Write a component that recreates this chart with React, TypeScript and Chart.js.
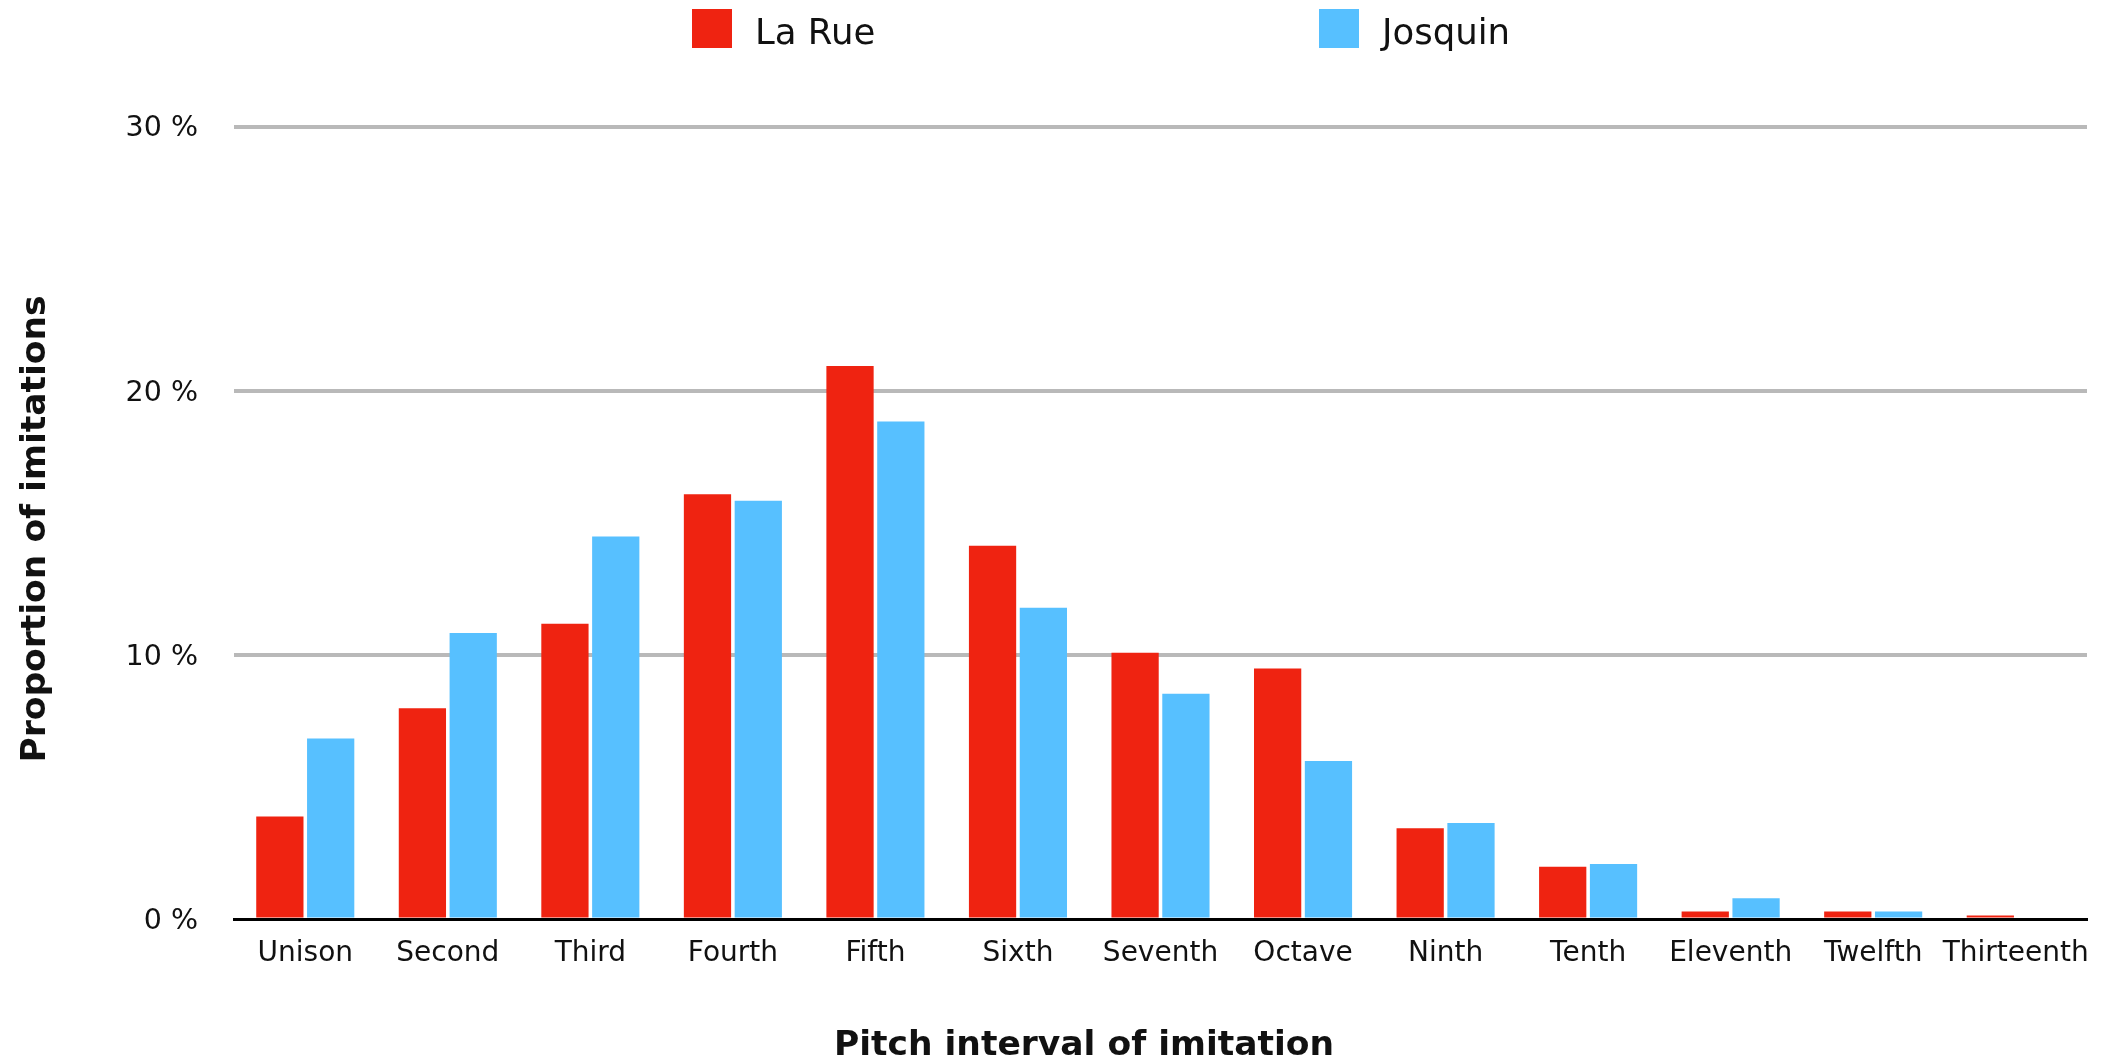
import React, { useEffect, useRef } from "react";
import { Chart, registerables } from "chart.js";

Chart.register(...registerables);

const categories = [
  "Unison", "Second", "Third", "Fourth", "Fifth", "Sixth", "Seventh",
  "Octave", "Ninth", "Tenth", "Eleventh", "Twelfth", "Thirteenth",
];
const laRueValues = [3.9, 8.0, 11.2, 16.1, 20.95, 14.15, 10.1, 9.5, 3.45, 2.0, 0.3, 0.3, 0.15];
const josquinValues = [6.85, 10.85, 14.5, 15.85, 18.85, 11.8, 8.55, 6.0, 3.65, 2.1, 0.8, 0.3, 0];
const yTickValues = [0, 10, 20, 30];
const seriesNames = ["La Rue", "Josquin"];
const seriesColors = ["#ef2311", "#57c0ff"];
const xTitle = "Pitch interval of imitation";
const yTitle = "Proportion of imitations";

const FONT = "'DejaVu Sans', 'Lucida Grande', sans-serif";

const decorPlugin = {
  id: "decor",
  afterDraw(chart: any) {
    const ctx = chart.ctx as CanvasRenderingContext2D;
    ctx.save();
    // legend
    const legendItems = [
      { x: 692, label: seriesNames[0], color: seriesColors[0] },
      { x: 1319, label: seriesNames[1], color: seriesColors[1] },
    ];
    ctx.font = `35.5px ${FONT}`;
    ctx.textBaseline = "alphabetic";
    ctx.textAlign = "left";
    for (const it of legendItems) {
      ctx.fillStyle = it.color;
      ctx.fillRect(it.x, 9, 40, 39);
      ctx.fillStyle = "#111";
      ctx.fillText(it.label, it.x + 63, 44);
    }
    // axis titles
    ctx.font = `bold 34.5px ${FONT}`;
    ctx.fillStyle = "#111";
    ctx.textAlign = "center";
    ctx.fillText(xTitle, 1084, 1055);
    ctx.translate(45, 529);
    ctx.rotate(-Math.PI / 2);
    ctx.fillText(yTitle, 0, 0);
    ctx.restore();
  },
};

export default function App() {
  const canvasRef = useRef<HTMLCanvasElement | null>(null);

  useEffect(() => {
    if (!canvasRef.current) return;
    const chart = new Chart(canvasRef.current, {
      type: "bar",
      data: {
        labels: categories,
        datasets: [
          {
            label: seriesNames[0],
            data: laRueValues,
            backgroundColor: seriesColors[0],
            borderWidth: 0,
            categoryPercentage: 0.713,
            barPercentage: 0.93,
          },
          {
            label: seriesNames[1],
            data: josquinValues,
            backgroundColor: seriesColors[1],
            borderWidth: 0,
            categoryPercentage: 0.713,
            barPercentage: 0.93,
          },
        ],
      },
      options: {
        animation: false,
        responsive: false,
        maintainAspectRatio: false,
        devicePixelRatio: 1,
        layout: { padding: { top: 127, right: 22, left: 0, bottom: 0 } },
        plugins: {
          legend: { display: false },
          tooltip: { enabled: false },
        },
        scales: {
          x: {
            grid: { display: false, drawTicks: false },
            border: { display: true, color: "#000", width: 3 },
            ticks: {
              color: "#111",
              font: { family: FONT, size: 28 },
              padding: 17,
              maxRotation: 0,
              autoSkip: false,
            },
            afterFit(scale: any) {
              scale.height = 140.5;
            },
          },
          y: {
            min: 0,
            max: 30,
            afterBuildTicks(scale: any) {
              scale.ticks = yTickValues.map((v) => ({ value: v }));
            },
            grid: {
              drawTicks: false,
              lineWidth: 4,
              color: (c: any) => (c.tick && c.tick.value === 0 ? "rgba(0,0,0,0)" : "#b9b9b9"),
            },
            border: { display: false },
            ticks: {
              color: "#111",
              font: { family: FONT, size: 28.5 },
              padding: 36,
              labelOffset: 2,
              callback: (v: any) => `${v} %`,
            },
            afterFit(scale: any) {
              scale.width = 234;
            },
          },
        },
      },
      plugins: [decorPlugin],
    });
    return () => chart.destroy();
  }, []);

  return (
    <div style={{ position: "fixed", left: 0, top: 0, width: 2109, height: 1060, background: "#fff" }}>
      <canvas ref={canvasRef} width={2109} height={1060} style={{ width: 2109, height: 1060, display: "block" }} />
    </div>
  );
}
